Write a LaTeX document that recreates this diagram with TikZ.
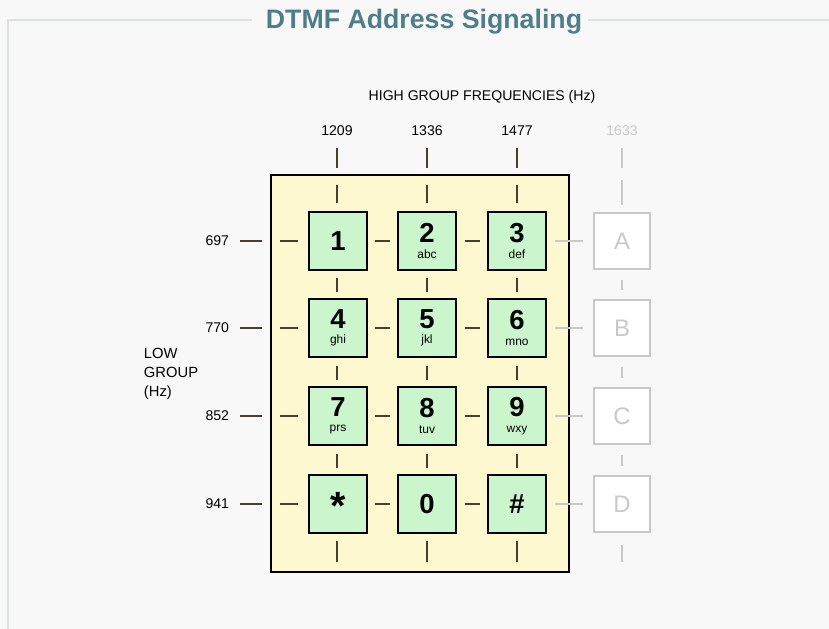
\documentclass[tikz,border=0pt]{standalone}
\usepackage{fontspec}
\setmainfont{Liberation Sans}
\usepackage{xcolor}
\usetikzlibrary{positioning}

\definecolor{keygreen}{HTML}{CBF5CC}
\definecolor{padyellow}{HTML}{FDF8D0}
\definecolor{tickdark}{HTML}{45412C}
\definecolor{fadegray}{HTML}{C9C9C9}
\definecolor{titleteal}{HTML}{4E7E8A}
\definecolor{pagegray}{HTML}{F8F8F8}
\definecolor{framegray}{HTML}{DCE2E2}

\tikzset{
    key/.style={draw=black, line width=1.4pt, fill=keygreen, minimum size=1.45cm,
        inner sep=0pt, align=center, font=\bfseries\fontsize{19.5}{15}\selectfont},
    fadekey/.style={draw=fadegray, line width=1pt, fill=white, minimum size=1.4cm,
        inner sep=0pt, text=fadegray, font=\fontsize{17}{17}\selectfont},
    tick/.style={draw=tickdark, line width=1.9pt},
    fadetick/.style={draw=fadegray, line width=1.4pt},
    freq/.style={font=\fontsize{10}{12}\selectfont},
}
\newcommand{\sublet}[1]{\\[-4pt]{\mdseries\fontsize{8.5}{8.5}\selectfont #1}}

\begin{document}
\begin{tikzpicture}[x=0.025cm, y=-0.025cm]
    % page and frame
    \fill[pagegray] (0,0) rectangle (829,629);
    \useasboundingbox (0,0) rectangle (829,629);
    \draw[framegray, line width=1.8pt] (8,629) -- (8,20) -- (252,20);
    \draw[framegray, line width=1.8pt] (588,20) -- (829,20);
    \node[font=\bfseries\fontsize{19}{19}\selectfont, text=titleteal] (title) at (424,22) {DTMF Address Signaling};

    % high group labels
    \node[freq] (high) at (482,97) {HIGH GROUP FREQUENCIES (Hz)};
    \node[freq] (f1209) at (337,131) {1209};
    \node[freq] (f1336) at (427,131) {1336};
    \node[freq] (f1477) at (517,131) {1477};
    \node[freq, text=fadegray] (f1633) at (622,131) {1633};

    % low group labels
    \node[freq, align=left, anchor=north west, font=\fontsize{10.5}{13.5}\selectfont] (low) at (139,343) {LOW\\GROUP\\(Hz)};
    \node[freq, anchor=east] (f697) at (234,241) {697};
    \node[freq, anchor=east] (f770) at (234,328) {770};
    \node[freq, anchor=east] (f852) at (234,416) {852};
    \node[freq, anchor=east] (f941) at (234,504) {941};

    % keypad
    \draw[line width=2pt, fill=padyellow] (271,175) rectangle (569,572);

    % ticks
    \foreach \y in {241,328,416,504} {
        \draw[tick] (240,\y) -- (262,\y);
        \draw[tick] (280,\y) -- (298,\y);
        \draw[tick] (375,\y) -- (390,\y);
        \draw[tick] (465,\y) -- (480,\y);
        \draw[fadetick] (555,\y) -- (583,\y);
    }
    \foreach \x in {337,427,517} {
        \draw[tick] (\x,148) -- (\x,168);
        \draw[tick] (\x,185) -- (\x,203);
        \draw[tick] (\x,278) -- (\x,292);
        \draw[tick] (\x,366) -- (\x,380);
        \draw[tick] (\x,454) -- (\x,468);
        \draw[tick] (\x,541) -- (\x,562);
    }
    \draw[fadetick] (622,148) -- (622,168);
    \draw[fadetick] (622,180) -- (622,205);
    \draw[fadetick] (622,280) -- (622,290);
    \draw[fadetick] (622,367) -- (622,378);
    \draw[fadetick] (622,455) -- (622,466);
    \draw[fadetick] (622,545) -- (622,562);

    % keys
    \node[key] (k1) at (338,241) {1};
    \node[key] (k2) at (427,241) {2\sublet{abc}};
    \node[key] (k3) at (517,241) {3\sublet{def}};
    \node[key] (k4) at (338,328) {4\sublet{ghi}};
    \node[key] (k5) at (427,328) {5\sublet{jkl}};
    \node[key] (k6) at (517,328) {6\sublet{mno}};
    \node[key] (k7) at (338,416) {7\sublet{prs}};
    \node[key] (k8) at (427,416) {8\sublet{tuv}};
    \node[key] (k9) at (517,416) {9\sublet{wxy}};
    \node[key] (kstar) at (338,504) {\raisebox{-11pt}[0pt][0pt]{\fontsize{28}{28}\selectfont *}};
    \node[key] (k0) at (427,504) {0};
    \node[key] (khash) at (517,504) {\#};

    % unused column
    \node[fadekey] (ka) at (622,241) {A};
    \node[fadekey] (kb) at (622,328) {B};
    \node[fadekey] (kc) at (622,416) {C};
    \node[fadekey] (kd) at (622,504) {D};
\end{tikzpicture}
\end{document}
